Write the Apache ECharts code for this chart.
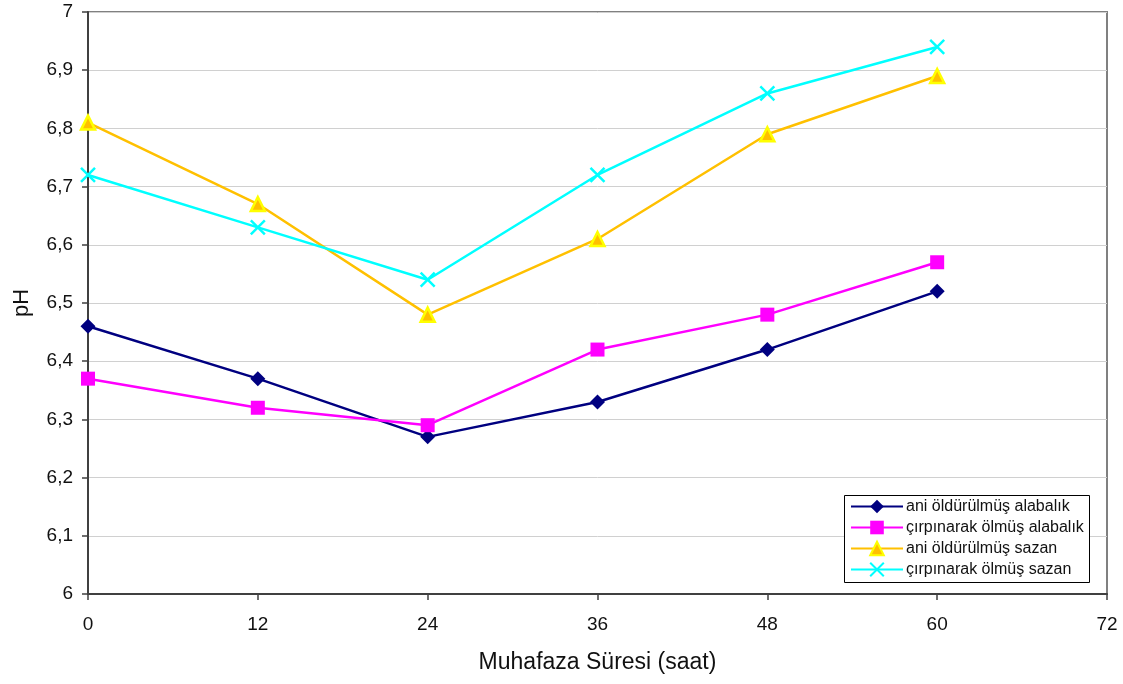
<!DOCTYPE html>
<html>
<head>
<meta charset="utf-8">
<script src="https://cdn.jsdelivr.net/npm/echarts@6/dist/echarts.min.js"></script>
<style>
html,body{margin:0;padding:0;background:#fff;}
#chart{width:1123px;height:684px;}
</style>
</head>
<body>
<div id="chart"></div>
<script>
// Storage time (hours) and pH readings per group
const hours = [0, 12, 24, 36, 48, 60];
const aniAlabalik = [6.46, 6.37, 6.27, 6.33, 6.42, 6.52];
const cirpinarakAlabalik = [6.37, 6.32, 6.29, 6.42, 6.48, 6.57];
const aniSazan = [6.81, 6.67, 6.48, 6.61, 6.79, 6.89];
const cirpinarakSazan = [6.72, 6.63, 6.54, 6.72, 6.86, 6.94];
const seriesNames = [
  'ani öldürülmüş alabalık',
  'çırpınarak ölmüş alabalık',
  'ani öldürülmüş sazan',
  'çırpınarak ölmüş sazan'
];

const pairs = arr => hours.map((h, i) => [h, arr[i]]);
const FONT = '"Liberation Sans", Arial, sans-serif';
const crossPath = 'path://M0,0L10,10M10,0L0,10';

const chart = echarts.init(document.getElementById('chart'), null, {renderer: 'canvas'});
chart.setOption({
  animation: false,
  backgroundColor: '#fff',
  grid: {
    left: 88, right: 16, top: 12, bottom: 90,
    show: true, borderColor: '#808080', borderWidth: 2, backgroundColor: 'transparent'
  },
  xAxis: {
    type: 'value', min: 0, max: 72, interval: 12,
    name: 'Muhafaza Süresi (saat)', nameLocation: 'middle', nameGap: 57,
    nameTextStyle: {fontFamily: FONT, fontSize: 23, color: '#111'},
    axisLine: {show: true, onZero: false, lineStyle: {color: '#404040', width: 2}},
    axisTick: {show: true, inside: false, length: 6, lineStyle: {color: '#404040', width: 1.5}},
    axisLabel: {fontFamily: FONT, fontSize: 19, color: '#111', margin: 21},
    splitLine: {show: false}
  },
  yAxis: {
    type: 'value', min: 6, max: 7, interval: 0.1,
    name: 'pH', nameLocation: 'middle', nameGap: 55, nameRotate: 90,
    nameTextStyle: {fontFamily: FONT, fontSize: 22, color: '#111'},
    axisLine: {show: true, lineStyle: {color: '#404040', width: 2}},
    axisTick: {show: true, inside: false, length: 6, lineStyle: {color: '#404040', width: 1.5}},
    axisLabel: {
      fontFamily: FONT, fontSize: 19, color: '#111', margin: 15,
      formatter: v => (Math.round(v * 10) / 10).toString().replace('.', ',')
    },
    splitLine: {show: true, lineStyle: {color: '#d0d0d0', width: 1}}
  },
  graphic: [{
    type: 'rect', left: 844, top: 495, z: 5,
    shape: {width: 245, height: 87},
    style: {fill: '#fff', stroke: '#000', lineWidth: 1}
  }],
  legend: {
    orient: 'vertical', left: 844, top: 495, z: 10,
    padding: [3, 6, 4, 6], itemGap: 4,
    itemWidth: 52, itemHeight: 17,
    backgroundColor: 'transparent', borderWidth: 0,
    textStyle: {fontFamily: FONT, fontSize: 16, lineHeight: 17, color: '#111', padding: [0, 0, 0, -2]},
    data: seriesNames
  },
  series: [
    {
      name: seriesNames[0], type: 'line', data: pairs(aniAlabalik),
      symbol: 'diamond', symbolSize: 15,
      lineStyle: {color: '#000080', width: 2.5},
      itemStyle: {color: '#000080'}
    },
    {
      name: seriesNames[1], type: 'line', data: pairs(cirpinarakAlabalik),
      symbol: 'rect', symbolSize: 14,
      lineStyle: {color: '#FF00FF', width: 2.5},
      itemStyle: {color: '#FF00FF'}
    },
    {
      name: seriesNames[2], type: 'line', data: pairs(aniSazan),
      symbol: 'triangle', symbolSize: 14,
      lineStyle: {color: '#FFC000', width: 2.5},
      itemStyle: {color: '#FFC000', borderColor: '#FFFF00', borderWidth: 2.5}
    },
    {
      name: seriesNames[3], type: 'line', data: pairs(cirpinarakSazan),
      symbol: crossPath, symbolSize: 14,
      lineStyle: {color: '#00FFFF', width: 2.5},
      itemStyle: {color: '#00FFFF', borderColor: '#00FFFF', borderWidth: 2.5}
    }
  ]
});
</script>
</body>
</html>
